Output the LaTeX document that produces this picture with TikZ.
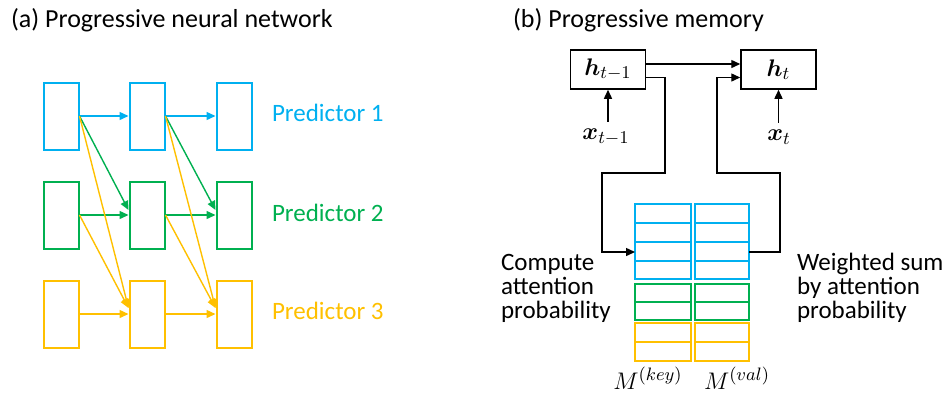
\documentclass[tikz,border=0pt]{standalone}
\usepackage{amsmath}
\usepackage{bm}
\usepackage{fontspec}
\setmainfont{Carlito}
\usetikzlibrary{arrows.meta}

\definecolor{predblue}{HTML}{00B0F0}
\definecolor{predgreen}{HTML}{00B050}
\definecolor{predyellow}{HTML}{FFC000}

\tikzset{
  cell/.style={draw, line width=1pt, minimum width=17.5pt, minimum height=33.5pt, inner sep=0pt},
  link/.style={line width=0.7pt, -{Triangle[length=4.5pt,width=4pt]}},
  hbox/.style={draw, line width=0.75pt, minimum width=37.5pt, minimum height=19.5pt, inner sep=0pt},
  arr/.style={line width=0.7pt, -{Triangle[length=4.5pt,width=4pt]}},
  slot/.style={line width=0.9pt}
}

\begin{document}
\begin{tikzpicture}[x=0.5pt, y=-0.5pt, font=\fontsize{12.5}{12}\selectfont]
  \useasboundingbox (0,0) rectangle (944,398);

  % titles
  \node[anchor=west, font=\fontsize{13}{14}\selectfont] (ta) at (4,20) {(a) Progressive neural network};
  \node[anchor=west, font=\fontsize{13}{14}\selectfont] (tb) at (506,20) {(b) Progressive memory};

  % three columns of predictors
  \foreach \c/\x in {1/61,2/147,3/234}{
    \node[cell, draw=predblue] (b\c) at (\x,116) {};
    \node[cell, draw=predgreen] (g\c) at (\x,215) {};
    \node[cell, draw=predyellow] (y\c) at (\x,314) {};
  }

  % lateral and forward links
  \foreach \a/\b in {1/2,2/3}{
    \draw[link, predblue] (b\a.east) -- (b\b.west);
    \draw[link, predgreen] (g\a.east) -- (g\b.west);
    \draw[link, predyellow] (y\a.east) -- (y\b.west);
    \draw[link, predgreen] (b\a.east) -- ([yshift=2.5pt]g\b.west);
    \draw[link, predyellow] (b\a.east) -- ([yshift=3pt]y\b.west);
    \draw[link, predyellow] (g\a.east) -- ([yshift=3pt]y\b.west);
  }

  \node[anchor=west, text=predblue] (p1) at (265,113) {Predictor 1};
  \node[anchor=west, text=predgreen] (p2) at (265,213) {Predictor 2};
  \node[anchor=west, text=predyellow] (p3) at (265,311) {Predictor 3};

  % hidden states
  \node[hbox] (hprev) at (608,69.5) {$\bm{h}_{t-1}$};
  \node[hbox] (hcur) at (778.5,69.5) {$\bm{h}_{t}$};
  \node (xprev) at (606,137) {$\bm{x}_{t-1}$};
  \node (xcur) at (779,137) {$\bm{x}_{t}$};
  \draw[arr] (xprev.north -| hprev.south) -- (hprev.south);
  \draw[arr] (xcur.north -| hcur.south) -- (hcur.south);
  \draw[arr] ([yshift=2.75pt]hprev.east) -- ([yshift=2.75pt]hcur.west);

  % memory slots: key and value columns
  \foreach \xa/\xb in {635/691,695/749}{
    \draw[slot, predblue] (\xa,204) rectangle (\xb,279);
    \foreach \yy in {223,242,261} \draw[slot, predblue] (\xa,\yy) -- (\xb,\yy);
    \draw[slot, predgreen] (\xa,284) rectangle (\xb,320) (\xa,302) -- (\xb,302);
    \draw[slot, predyellow] (\xa,323) rectangle (\xb,361) (\xa,342) -- (\xb,342);
  }
  \coordinate (qin) at (635,252);
  \coordinate (rout) at (749,252);

  % read and write loops
  \draw[arr] ([yshift=-4pt]hprev.east) -| (665,173) -| (602,252) -- (qin);
  \draw[arr] (rout) -- (780,252) |- (717,173) |- ([yshift=-4pt]hcur.west);

  \node[anchor=west, align=left] (comp) at (494,288) {Compute\\attention\\probability};
  \node[anchor=west, align=left] (wsum) at (790,288) {Weighted sum\\by attention\\probability};
  \node (mkey) at (648,378) {$M^{(key)}$};
  \node (mval) at (737,378) {$M^{(val)}$};
\end{tikzpicture}
\end{document}
